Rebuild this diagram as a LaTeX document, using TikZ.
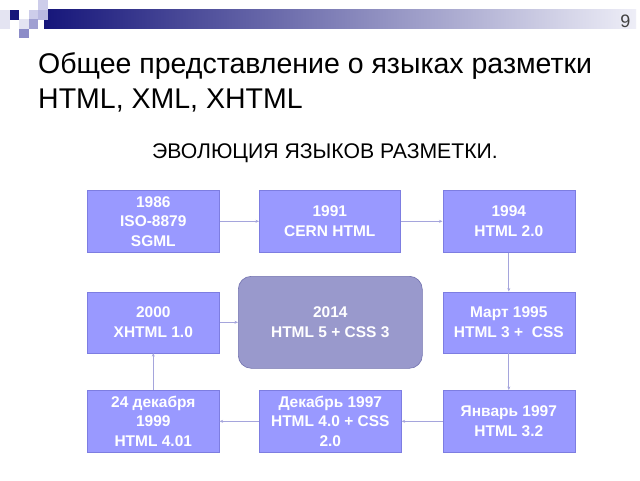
\documentclass[tikz,border=0pt]{standalone}
\usepackage{fontspec}
\setmainfont{Liberation Sans}
\usetikzlibrary{arrows.meta}
\definecolor{boxfill}{RGB}{153,153,255}
\definecolor{boxline}{RGB}{125,125,225}
\definecolor{bigfill}{RGB}{153,153,204}
\definecolor{bigline}{RGB}{115,115,175}
\definecolor{arrowc}{RGB}{165,165,220}
\definecolor{navy}{RGB}{22,22,122}
\definecolor{sqA}{RGB}{205,205,234}
\definecolor{sqB}{RGB}{185,185,225}
\definecolor{sqC}{RGB}{160,160,210}
\definecolor{sqD}{RGB}{140,140,200}
\definecolor{sqE}{RGB}{228,228,242}
\definecolor{barend}{RGB}{238,238,247}
\begin{document}
\begin{tikzpicture}[x=1pt,y=-1pt,
  yearbox/.style={draw=boxline, line width=0.6pt, fill=boxfill, minimum width=132pt,
    minimum height=62pt, inner sep=0pt, text=white,
    font=\bfseries\fontsize{15.5}{19.5}\selectfont, align=center, anchor=north west},
  bigbox/.style={draw=bigline, line width=0.6pt, fill=bigfill, rounded corners=13pt,
    minimum width=184pt, minimum height=92pt, inner sep=0pt, text=white,
    font=\bfseries\fontsize{15.5}{19.5}\selectfont, align=center, anchor=north west},
  flow/.style={draw=arrowc, line width=0.7pt, -{Stealth[length=3.5pt,width=3pt]}},
  sq/.style={inner sep=0pt, minimum width=9.5pt, minimum height=9.5pt, anchor=north west}
]
\useasboundingbox (0,0) rectangle (640,480);
\fill[white] (0,0) rectangle (640,480);

% top decoration
\shade[left color=navy, right color=barend] (44,9) rectangle (636,28);
\node[sq, fill=sqE] (s0) at (0,10) {};
\node[sq, fill=sqE] (s1) at (0,19) {};
\node[sq, fill=navy] (s2) at (9.5,10) {};
\node[sq, fill=sqE] (s3) at (19,19) {};
\node[sq, fill=sqD] (s4) at (19,28.5) {};
\node[sq, fill=sqA] (s5) at (28.5,10) {};
\node[sq, fill=sqC] (s6) at (28.5,19) {};
\node[sq, fill=sqA] (s7) at (38,0) {};
\node[sq, fill=sqB] (s8) at (38,10) {};
\node[anchor=base east, text=black!75, font=\fontsize{18}{20}\selectfont] (pg) at (634,27) {9};

% titles
\node[anchor=base west, inner sep=0pt, font=\fontsize{28.5}{32}\selectfont] (t1) at (38,73) {Общее представление о языках разметки};
\node[anchor=base west, inner sep=0pt, font=\fontsize{28.5}{32}\selectfont] (t2) at (38,108) {HTML, XML, XHTML};
\node[anchor=base, inner sep=0pt, font=\fontsize{21.2}{24}\selectfont] (sub) at (325,158) {ЭВОЛЮЦИЯ ЯЗЫКОВ РАЗМЕТКИ.};

% boxes
\node[yearbox] (a) at (87,190) {1986\\ISO-8879\\SGML};
\node[yearbox, minimum width=141pt] (b) at (259,190) {1991\\CERN HTML};
\node[yearbox] (c) at (442.5,190) {1994\\HTML 2.0};
\node[yearbox, minimum height=61pt] (d) at (442.5,291.5) {Март 1995\\HTML 3 +\ \ CSS};
\node[yearbox] (e) at (442.5,390) {Январь 1997\\HTML 3.2};
\node[yearbox, minimum width=142pt] (f) at (259,390) {Декабрь 1997\\HTML 4.0 + CSS\\2.0};
\node[yearbox] (g) at (87,390) {24 декабря\\1999\\HTML 4.01};
\node[yearbox, minimum height=61pt] (h) at (87,291.5) {2000\\XHTML 1.0};
\node[bigbox] (i) at (238,276) {2014\\HTML 5 + CSS 3};

% connectors
\draw[flow] (a) -- (b);
\draw[flow] (b) -- (c);
\draw[flow] (c) -- (d);
\draw[flow] (d) -- (e);
\draw[flow] (e) -- (f);
\draw[flow] (f) -- (g);
\draw[flow] (g) -- (h);
\draw[flow] (h.east) -- (i.west |- h.east);
\end{tikzpicture}
\end{document}
